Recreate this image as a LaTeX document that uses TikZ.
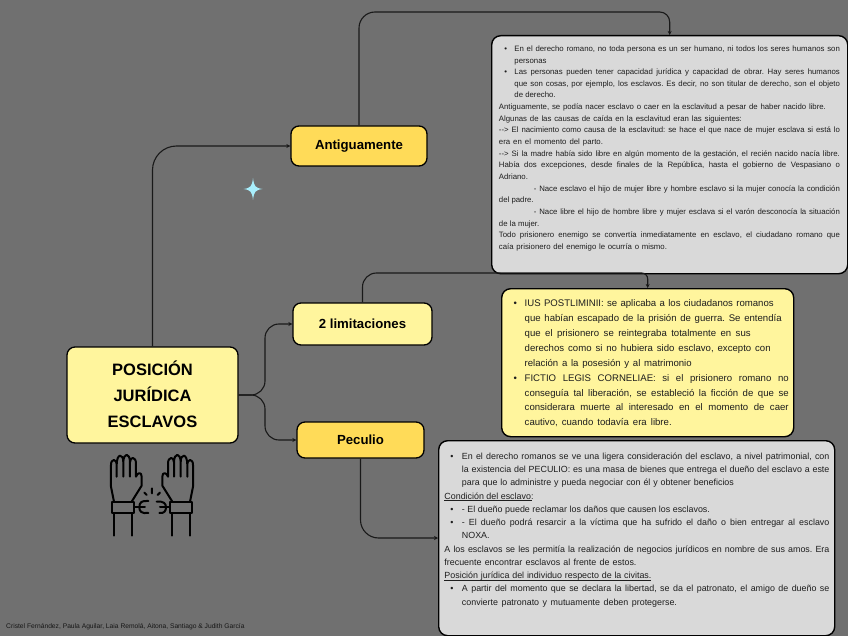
\documentclass[tikz,border=0pt]{standalone}
\usepackage{fontspec}
\setmainfont{Liberation Sans}
\usetikzlibrary{arrows.meta}
\definecolor{bgc}{HTML}{707070}
\definecolor{greyfill}{HTML}{D9D9D9}
\definecolor{paley}{HTML}{FFF59D}
\definecolor{goldy}{HTML}{FFDB58}
\definecolor{starc}{HTML}{A8EEFC}
\definecolor{txt}{HTML}{1E1E1E}
\newcommand\lineJ[2]{\hbox to \hsize{\hspace*{#1}#2}}
\newcommand\lineL[2]{\hbox to \hsize{\hspace*{#1}#2\hfil}}
\newcommand\lineW[3]{\hbox to \hsize{\hspace*{#1}\hbox to #2{#3}\hfil}}
\newcommand\lineB[3]{\hbox to \hsize{\hspace*{#1}\hbox to #2{\textbullet\hfil}#3}}
\newcommand\lineBW[4]{\hbox to \hsize{\hspace*{#1}\hbox to #2{\textbullet\hfil}\hbox to #3{#4}\hfil}}
\newcommand\ruled[2]{\rlap{\rule[-1.6pt]{#1}{0.45pt}}#2}
\tikzset{
  x=1pt,y=-1pt,
  topic/.style={draw=black,line width=1.3pt,rounded corners=8pt,inner sep=0pt,align=center,font=\bfseries\fontsize{13.2}{26}\selectfont,text=black},
  textbox/.style={draw=black,line width=1.4pt,rounded corners=9pt,inner sep=0pt,anchor=north west,text=txt},
  conn/.style={draw=black!90,line width=1.1pt},
  arr/.style={conn,-{Stealth[length=4pt,width=4pt]}},
  iconline/.style={draw=black,line width=2pt,line cap=round,line join=round},
}
\newcommand\myhand{%
  \draw[iconline] (72,170) -- (63,125) -- (63,60) .. controls (63,40) and (80,40) .. (80,60) -- (80,95)
    (80,60) .. controls (80,24) and (100,24) .. (100,52) -- (100,95)
    (100,52) .. controls (100,22) and (120,22) .. (120,52) -- (120,95)
    (120,52) .. controls (120,34) and (138,34) .. (138,56) -- (138,95)
    .. controls (142,82) and (155,80) .. (155,95) -- (155,122) -- (125,170);
  \draw[iconline] (65,172) -- (132,172) -- (132,205) -- (65,205) -- cycle;
  \draw[iconline] (72,205) -- (72,272) (127,205) -- (127,272);
}
\begin{document}
\begin{tikzpicture}
\useasboundingbox (0,0) rectangle (848,636);
\fill[bgc] (0,0) rectangle (848,636);

% boxes
\node[textbox,fill=greyfill,minimum width=356pt,minimum height=238pt] (bone) at (491,35) {%
\parbox[c][238pt][t]{356pt}{\fontsize{7.8}{11.65}\selectfont\frenchspacing\lineskiplimit=-20pt
\vspace*{10pt}
\moveright-0.5pt\vbox{\hsize=341pt
\lineB{5.5pt}{10pt}{En el derecho romano, no toda persona es un ser humano, ni todos los seres humanos son}
\lineL{15.5pt}{personas}
\lineB{5.5pt}{10pt}{Las personas pueden tener capacidad jurídica y capacidad de obrar. Hay seres humanos}
\lineJ{15.5pt}{que son cosas, por ejemplo, los esclavos. Es decir, no son titular de derecho, son el objeto}
\lineL{15.5pt}{de derecho.}
\lineW{0pt}{327pt}{Antiguamente, se podía nacer esclavo o caer en la esclavitud a pesar de haber nacido libre.}
\lineW{0pt}{243pt}{Algunas de las causas de caída en la esclavitud eran las siguientes:}
\lineJ{0pt}{{-}{-}> El nacimiento como causa de la esclavitud: se hace el que nace de mujer esclava si está lo}
\lineW{0pt}{104pt}{era en el momento del parto.}
\lineJ{0pt}{{-}{-}> Si la madre había sido libre en algún momento de la gestación, el recién nacido nacía libre.}
\lineJ{0pt}{Había dos excepciones, desde finales de la República, hasta el gobierno de Vespasiano o}
\lineL{0pt}{Adriano.}
\lineJ{35pt}{- Nace esclavo el hijo de mujer libre y hombre esclavo si la mujer conocía la condición}
\lineL{0pt}{del padre.}
\lineJ{35pt}{- Nace libre el hijo de hombre libre y mujer esclava si el varón desconocía la situación}
\lineL{0pt}{de la mujer.}
\lineJ{0pt}{Todo prisionero enemigo se convertía inmediatamente en esclavo, el ciudadano romano que}
\lineW{0pt}{168pt}{caía prisionero del enemigo le ocurría o mismo.}
}}};

\node[textbox,fill=paley,minimum width=292pt,minimum height=148pt] (btwo) at (501,288) {%
\parbox[c][148pt][t]{292pt}{\fontsize{9.6}{14.9}\selectfont\frenchspacing\lineskiplimit=-20pt
\vspace*{11pt}
\moveright7pt\vbox{\hsize=275pt
\lineBW{0pt}{11pt}{249pt}{IUS POSTLIMINII: se aplicaba a los ciudadanos romanos}
\lineW{11pt}{257pt}{que habían escapado de la prisión de guerra. Se entendía}
\lineW{11pt}{226pt}{que el prisionero se reintegraba totalmente en sus}
\lineW{11pt}{246pt}{derechos como si no hubiera sido esclavo, excepto con}
\lineW{11pt}{167pt}{relación a la posesión y al matrimonio}
\lineB{0pt}{11pt}{FICTIO LEGIS CORNELIAE: si el prisionero romano no}
\lineJ{11pt}{conseguía tal liberación, se estableció la ficción de que se}
\lineJ{11pt}{considerara muerte al interesado en el momento de caer}
\lineW{11pt}{147pt}{cautivo, cuando todavía era libre.}
}}};

\node[textbox,fill=greyfill,minimum width=396pt,minimum height=195pt] (bthree) at (438,440) {%
\parbox[c][195pt][t]{396pt}{\fontsize{8.9}{13.25}\selectfont\frenchspacing\lineskiplimit=-20pt
\vspace*{12pt}
\moveright0.5pt\vbox{\hsize=385pt
\lineB{6pt}{11.5pt}{En el derecho romanos se ve una ligera consideración del esclavo, a nivel patrimonial, con}
\lineJ{17.5pt}{la existencia del PECULIO: es una masa de bienes que entrega el dueño del esclavo a este}
\lineW{17.5pt}{272pt}{para que lo administre y pueda negociar con él y obtener beneficios}
\lineL{0pt}{\ruled{88pt}{Condición del esclavo}:}
\lineBW{6pt}{11.5pt}{248pt}{- El dueño puede reclamar los daños que causen los esclavos.}
\lineB{6pt}{11.5pt}{- El dueño podrá resarcir a la víctima que ha sufrido el daño o bien entregar al esclavo}
\lineL{17.5pt}{NOXA.}
\lineJ{0pt}{A los esclavos se les permitía la realización de negocios jurídicos en nombre de sus amos. Era}
\lineW{0pt}{192pt}{frecuente encontrar esclavos al frente de estos.}
\lineL{0pt}{\ruled{207pt}{\hbox to 207pt{Posición jurídica del individuo respecto de la civitas.}}}
\lineB{6pt}{11.5pt}{A partir del momento que se declara la libertad, se da el patronato, el amigo de dueño se}
\lineW{17.5pt}{215pt}{convierte patronato y mutuamente deben protegerse.}
}}};

% topics
\node[topic,fill=paley,minimum width=171pt,minimum height=96pt,font=\bfseries\fontsize{16.5}{26}\selectfont] (root) at (152.5,395) {\raisebox{2pt}{POSICIÓN}\\\raisebox{2pt}{JURÍDICA}\\\raisebox{2pt}{ESCLAVOS}};
\node[topic,fill=goldy,minimum width=136pt,minimum height=40pt] (anti) at (359,146) {Antiguamente};
\node[topic,fill=paley,minimum width=139pt,minimum height=42pt] (lim) at (362.5,324) {2 limitaciones};
\node[topic,fill=goldy,minimum width=127pt,minimum height=36pt] (pec) at (360.5,440) {Peculio};

% helper coordinates
\coordinate (lineA) at (0,12);
\coordinate (lineBB) at (0,273);
\coordinate (busx) at (265,0);
\coordinate (peclow) at (0,538);

% connectors
\draw[arr,rounded corners=24pt] (root.north) |- (anti.west);
\draw[arr,rounded corners=14pt] (root.east) -- (busx |- root.east) -- (busx |- lim.west) -- (lim.west);
\draw[arr,rounded corners=14pt] (root.east) -- (busx |- root.east) -- (busx |- pec.west) -- (pec.west);
\draw[arr] (anti.north) [rounded corners=16pt] -- (anti.north |- lineA) [rounded corners=10pt] -- (bone.north |- lineA) -- (bone.north);
\draw[arr] (lim.north) [rounded corners=14pt] -- (lim.north |- lineBB) [rounded corners=6pt] -- (btwo.north |- lineBB) -- (btwo.north);
\draw[arr,rounded corners=18pt] (pec.south) |- (peclow -| bthree.west);

% star
\fill[starc] (253,178) .. controls (254,186) and (255,188) .. (262.5,189) .. controls (255,190) and (254,192) .. (253,200)
  .. controls (252,192) and (251,190) .. (243.5,189) .. controls (251,188) and (252,186) .. (253,178) -- cycle;

% icon: hands and broken chain
\begin{scope}[shift={(90,445)},x=0.3333pt,y=-0.3333pt]
  \myhand
  \draw[iconline] (175,168) .. controls (155,166) and (148,172) .. (148,187) .. controls (148,200) and (155,206) .. (175,204);
  \draw[iconline] (135,187) -- (165,187);
  \draw[iconline] (163,143) -- (170,150) (186,130) -- (186,145) (210,143) -- (203,150);
  \draw[iconline] (200,170) .. controls (222,168) and (228,176) .. (228,187) .. controls (228,198) and (222,206) .. (208,204);
  \draw[iconline] (210,187) -- (240,187);
\end{scope}
\begin{scope}[shift={(214,445)},x=-0.3333pt,y=-0.3333pt]
  \myhand
\end{scope}

\node[anchor=west,inner sep=0pt,text=black!80!bgc,font=\fontsize{6.7}{8}\selectfont] (credit) at (6,627) {Cristel Fernández, Paula Aguilar, Laia Remolá, Aitona, Santiago \& Judith García};
\end{tikzpicture}
\end{document}
